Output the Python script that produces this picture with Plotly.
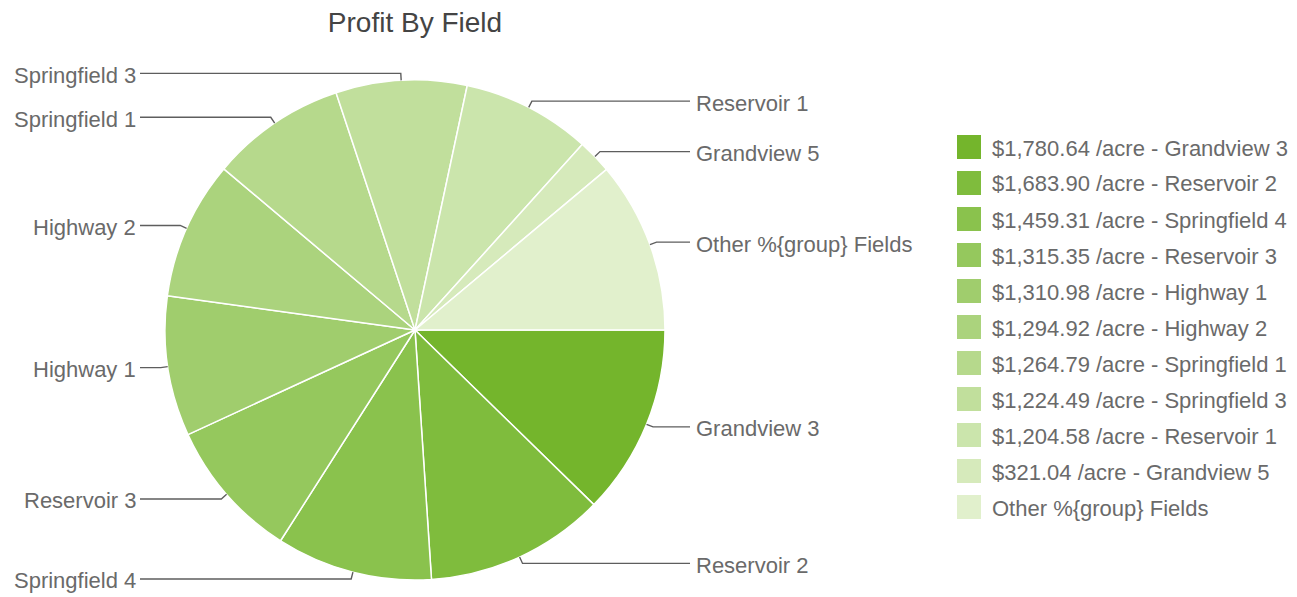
import math
import plotly.graph_objects as go

# page offset: the browser body has an 8px margin
OFF = 8
W, H = 1297 - OFF, 597 - OFF

fields = ["Grandview 3", "Reservoir 2", "Springfield 4", "Reservoir 3", "Highway 1",
          "Highway 2", "Springfield 1", "Springfield 3", "Reservoir 1", "Grandview 5",
          "Other %{group} Fields"]
profit = [1780.64, 1683.90, 1459.31, 1315.35, 1310.98, 1294.92, 1264.79, 1224.49,
          1204.58, 321.04, 1606.0]
legend_labels = ["$1,780.64 /acre - Grandview 3", "$1,683.90 /acre - Reservoir 2",
                 "$1,459.31 /acre - Springfield 4", "$1,315.35 /acre - Reservoir 3",
                 "$1,310.98 /acre - Highway 1", "$1,294.92 /acre - Highway 2",
                 "$1,264.79 /acre - Springfield 1", "$1,224.49 /acre - Springfield 3",
                 "$1,204.58 /acre - Reservoir 1", "$321.04 /acre - Grandview 5",
                 "Other %{group} Fields"]
colors = ["#74b52c", "#7fbc3d", "#8ac24d", "#95c85d", "#a0cd6d", "#abd37d",
          "#b6d98c", "#c1df9c", "#cbe5ac", "#d6eabb", "#e1f0cc"]

# layout geometry (page pixels)
CX, CY, R = 415.0, 330.0, 250.0
TEXT_COLOR = "#6a6a6a"
FONT = "Liberation Sans, Arial, sans-serif"


def px(x):
    return (x - OFF) / W


def py(y):
    return 1 - (y - OFF) / H


fig = go.Figure()
fig.add_trace(go.Pie(
    labels=fields, values=profit, sort=False, direction="clockwise", rotation=90,
    marker=dict(colors=colors, line=dict(color="white", width=1.5)),
    textinfo="none", hoverinfo="label+value+percent", showlegend=False,
    domain=dict(x=[px(CX - R), px(CX + R)], y=[py(CY + R), py(CY - R)]),
))

shapes = []
annotations = []

# leader lines and slice labels computed from the values
total = sum(profit)
cum = 0.0
for name, v in zip(fields, profit):
    mid = (cum + v / 2) / total * 2 * math.pi
    cum += v
    dx, dy = math.cos(mid), math.sin(mid)
    p0 = (CX + R * dx, CY + R * dy)
    q = (CX + (R + 7) * dx, CY + (R + 7) * dy)
    right = dx > 0
    xend = 690 if right else 140
    shapes.append(dict(
        type="path", xref="paper", yref="paper",
        path=f"M {px(p0[0])} {py(p0[1])} L {px(q[0])} {py(q[1])} L {px(xend)} {py(q[1])}",
        line=dict(color="#5e5e5e", width=1.4),
    ))
    annotations.append(dict(
        xref="paper", yref="paper", x=px(694 if right else 138), y=py(q[1] + 2),
        xanchor="left" if right else "right", yanchor="middle", showarrow=False,
        text=name, font=dict(family=FONT, size=22, color=TEXT_COLOR),
    ))

# legend
for i, (lab, col) in enumerate(zip(legend_labels, colors)):
    yc = 147 + 36 * i
    shapes.append(dict(type="rect", xref="paper", yref="paper",
                       x0=px(957), x1=px(981), y0=py(yc + 12), y1=py(yc - 12),
                       fillcolor=col, line=dict(width=0)))
    annotations.append(dict(
        xref="paper", yref="paper", x=px(990), y=py(yc + 1), xanchor="left", yanchor="middle",
        showarrow=False, text=lab, font=dict(family=FONT, size=22, color=TEXT_COLOR),
    ))

fig.update_layout(
    width=W, height=H, margin=dict(l=0, r=0, t=0, b=0),
    paper_bgcolor="white", plot_bgcolor="white",
    title=dict(text="Profit By Field", x=px(415), xanchor="center", y=py(22),
               yanchor="middle", font=dict(family=FONT, size=28, color="#444444")),
    shapes=shapes, annotations=annotations,
)

fig.write_html("out.html")
